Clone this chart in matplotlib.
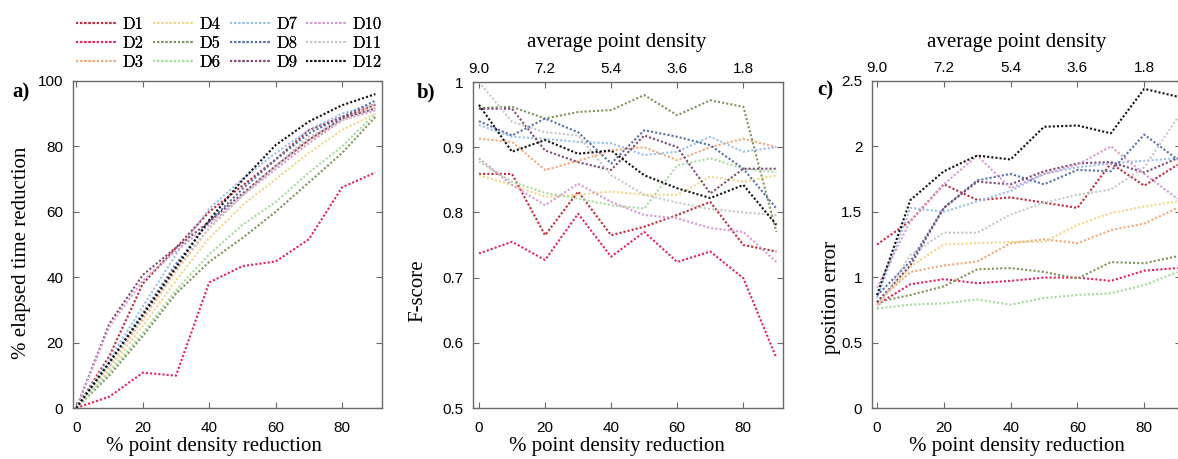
import matplotlib
matplotlib.use("Agg")
import matplotlib.pyplot as plt

W, H = 1178, 459

x = [0, 10, 20, 30, 40, 50, 60, 70, 80, 90]
labels = ["D1", "D2", "D3", "D4", "D5", "D6", "D7", "D8", "D9", "D10", "D11", "D12"]
colors = ["#c0283a", "#e8205a", "#f5a878", "#f2d68a", "#7f9460", "#a6dc9c",
          "#98c0ec", "#5870a8", "#7e4a74", "#d69ad2", "#c8c8c8", "#111111"]

# a) % elapsed time reduction
time_red = {
    "D1":  [0, 16, 38, 49, 60, 68, 76, 85, 89, 92.7],
    "D2":  [0, 3.5, 10.8, 9.9, 38.4, 43.4, 44.8, 51.6, 67.5, 72],
    "D3":  [0, 13, 27, 42, 55, 65, 74, 82, 88, 93],
    "D4":  [0, 12, 25, 39, 52, 62, 70, 78, 85, 90],
    "D5":  [0, 10, 22, 35, 44.7, 52, 60, 69, 78, 89],
    "D6":  [0, 11, 23, 36, 47, 56, 63, 72, 80, 90],
    "D7":  [0, 15, 31, 47, 61, 70, 78, 85, 90, 93],
    "D8":  [0, 14, 29, 44, 57, 67, 76, 84, 89, 94],
    "D9":  [0, 25.9, 40.7, 49, 57, 65.6, 74, 82, 88.6, 91.6],
    "D10": [0, 25, 39, 48, 56, 65, 73, 81, 88, 91],
    "D11": [0, 13, 28, 43, 55, 65, 74, 83, 88, 92],
    "D12": [0, 14, 28.4, 43, 57.5, 69.7, 80.4, 87.6, 92.6, 96],
}

# b) F-score
fscore = {
    "D1":  [0.859, 0.859, 0.765, 0.832, 0.765, 0.778, 0.796, 0.816, 0.750, 0.740],
    "D2":  [0.737, 0.755, 0.727, 0.798, 0.732, 0.770, 0.724, 0.740, 0.699, 0.577],
    "D3":  [0.913, 0.908, 0.865, 0.879, 0.895, 0.900, 0.880, 0.900, 0.913, 0.900],
    "D4":  [0.857, 0.842, 0.824, 0.827, 0.832, 0.827, 0.827, 0.855, 0.847, 0.857],
    "D5":  [0.960, 0.962, 0.944, 0.954, 0.957, 0.980, 0.949, 0.972, 0.962, 0.770],
    "D6":  [0.878, 0.847, 0.830, 0.821, 0.811, 0.806, 0.872, 0.883, 0.867, 0.862],
    "D7":  [0.934, 0.916, 0.913, 0.908, 0.906, 0.888, 0.893, 0.916, 0.893, 0.900],
    "D8":  [0.940, 0.918, 0.944, 0.923, 0.875, 0.926, 0.916, 0.903, 0.867, 0.806],
    "D9":  [0.959, 0.959, 0.895, 0.877, 0.865, 0.918, 0.900, 0.829, 0.867, 0.867],
    "D10": [0.883, 0.842, 0.811, 0.844, 0.816, 0.796, 0.791, 0.776, 0.770, 0.724],
    "D11": [1.000, 0.939, 0.923, 0.918, 0.857, 0.827, 0.815, 0.805, 0.800, 0.796],
    "D12": [0.965, 0.893, 0.911, 0.890, 0.895, 0.857, 0.837, 0.822, 0.842, 0.781],
}

# c) position error
pos_err = {
    "D1":  [1.25, 1.43, 1.71, 1.59, 1.61, 1.57, 1.53, 1.87, 1.70, 1.86],
    "D2":  [0.79, 0.946, 0.985, 0.954, 0.972, 0.997, 0.997, 0.972, 1.05, 1.07],
    "D3":  [0.81, 1.04, 1.09, 1.12, 1.26, 1.29, 1.26, 1.36, 1.41, 1.53],
    "D4":  [0.79, 1.08, 1.25, 1.26, 1.27, 1.27, 1.40, 1.49, 1.54, 1.58],
    "D5":  [0.81, 0.864, 0.93, 1.06, 1.07, 1.04, 0.99, 1.115, 1.107, 1.16],
    "D6":  [0.76, 0.79, 0.80, 0.83, 0.79, 0.84, 0.864, 0.877, 0.94, 1.04],
    "D7":  [0.84, 1.53, 1.50, 1.58, 1.66, 1.79, 1.84, 1.87, 1.89, 1.91],
    "D8":  [0.86, 1.12, 1.53, 1.74, 1.79, 1.71, 1.82, 1.81, 2.09, 1.90],
    "D9":  [0.81, 1.09, 1.53, 1.73, 1.71, 1.81, 1.87, 1.88, 1.80, 1.91],
    "D10": [0.92, 1.43, 1.71, 1.93, 1.68, 1.79, 1.86, 2.00, 1.79, 1.60],
    "D11": [0.76, 1.17, 1.34, 1.34, 1.48, 1.57, 1.63, 1.67, 1.84, 2.22],
    "D12": [0.864, 1.59, 1.81, 1.93, 1.90, 2.15, 2.16, 2.10, 2.44, 2.38],
}

bottom_ticks = [0, 20, 40, 60, 80]
top_tick_labels = ["9.0", "7.2", "5.4", "3.6", "1.8"]

SANS = "Liberation Sans"
SERIF = "Liberation Serif"
SPINE = "#6a6a6a"

fig = plt.figure(figsize=(W / 100, H / 100), dpi=100)


def rect(l, r, t, b):
    return [l / W, 1 - b / H, (r - l) / W, (b - t) / H]


def style(ax, ylim, yticks, yticklabels):
    ax.set_ylim(*ylim)
    ax.set_yticks(yticks)
    ax.set_yticklabels(yticklabels, fontfamily=SANS, fontsize=11)
    ax.set_xticks(bottom_ticks)
    ax.set_xticklabels([str(t) for t in bottom_ticks], fontfamily=SANS, fontsize=11)
    ax.tick_params(direction="in", length=4, width=0.8, color=SPINE,
                   top=True, right=True, pad=7)
    ax.tick_params(axis="x", pad=9)
    for s in ax.spines.values():
        s.set_color(SPINE)
        s.set_linewidth(1.0)


def draw(ax, data):
    handles = []
    for lab, col in zip(labels, colors):
        h, = ax.plot(x, data[lab], linestyle=(0, (1, 1)), color=col, lw=1.5,
                     label=lab)
        handles.append(h)
    return handles


axa = fig.add_axes(rect(73, 382, 81, 408))
handles = draw(axa, time_red)
axa.set_xlim(-1, 92)
style(axa, (0, 100), [0, 20, 40, 60, 80, 100], ["0", "20", "40", "60", "80", "100"])

axb = fig.add_axes(rect(473, 783, 82, 408))
draw(axb, fscore)
axb.set_xlim(-1.8, 92)
style(axb, (0.5, 1.0), [0.5, 0.6, 0.7, 0.8, 0.9, 1.0],
      ["0.5", "0.6", "0.7", "0.8", "0.9", "1"])

axc = fig.add_axes(rect(872, 1181, 81, 408))
draw(axc, pos_err)
axc.set_xlim(-1.5, 91)
style(axc, (0, 2.5), [0, 0.5, 1, 1.5, 2, 2.5], ["0", "0.5", "1", "1.5", "2", "2.5"])

for ax in (axb, axc):
    sec = ax.secondary_xaxis("top")
    sec.set_xticks(bottom_ticks)
    sec.set_xticklabels(top_tick_labels, fontfamily=SANS, fontsize=11)
    sec.tick_params(direction="in", length=0, pad=4)
    sec.spines["top"].set_visible(False)


def ftext(px, py, s, **kw):
    fig.text(px / W, 1 - py / H, s, **kw)


lab_kw = dict(fontfamily=SERIF, fontsize=15, ha="center", va="center")
ftext(22, 253, "% elapsed time reduction", rotation=90, **lab_kw)
ftext(418, 291, "F-score", rotation=90, **lab_kw)
ftext(831, 297, "position error", rotation=90, **lab_kw)
for cx in (214, 617, 1017):
    ftext(cx, 447, "% point density reduction", **lab_kw)
for cx in (617, 1017):
    ftext(cx, 42, "average point density", **lab_kw)

let_kw = dict(fontfamily=SERIF, fontsize=15, fontweight="bold", ha="left", va="center")
ftext(12, 92, "a)", **let_kw)
ftext(417, 92, "b)", **let_kw)
ftext(817, 90, "c)", **let_kw)

# legend: one column-legend per group of three entries
col_x = [76, 153, 230, 306]
for i, cx in enumerate(col_x):
    leg = fig.legend(handles=handles[3 * i:3 * i + 3], labels=labels[3 * i:3 * i + 3],
                     ncol=1, loc="upper left",
                     bbox_to_anchor=(cx / W, 1 - 16.6 / H), frameon=False,
                     prop=dict(family="cmr10", size=12), handlelength=2.4,
                     handletextpad=0.4, labelspacing=0.22,
                     borderpad=0, borderaxespad=0)
    fig.add_artist(leg)

fig.savefig("out.png", dpi=100)
